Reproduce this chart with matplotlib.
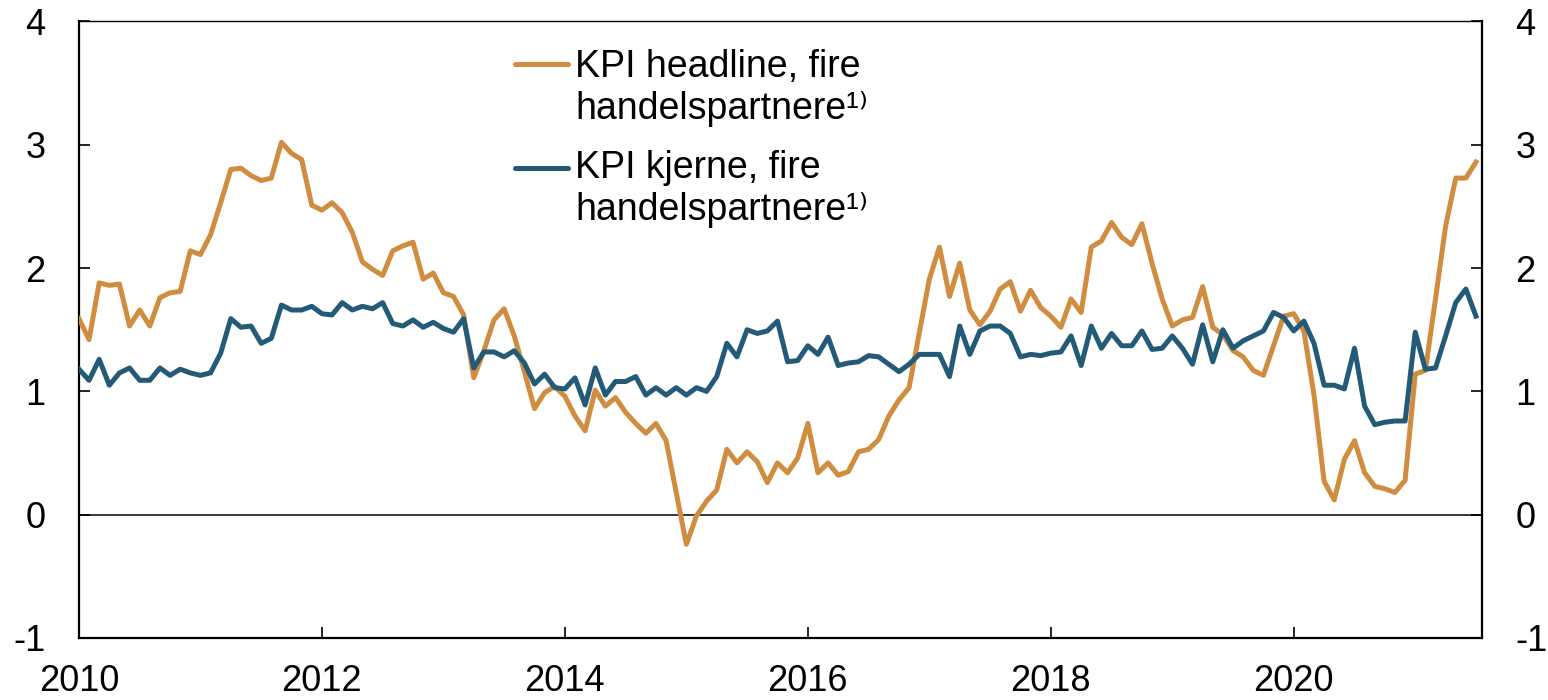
import numpy as np
import matplotlib
matplotlib.use('Agg')
import matplotlib.pyplot as plt

plt.rcParams['font.family'] = ['Liberation Sans', 'DejaVu Sans']

# monthly, Jan 2010 - Jul 2021
headline = [1.59, 1.42, 1.88, 1.86, 1.87, 1.53, 1.66, 1.53, 1.76, 1.80, 1.81, 2.14,
            2.11, 2.27, 2.53, 2.80, 2.81, 2.75, 2.71, 2.73, 3.02, 2.93, 2.88, 2.51,
            2.47, 2.53, 2.45, 2.29, 2.05, 1.99, 1.94, 2.14, 2.18, 2.21, 1.91, 1.96,
            1.80, 1.77, 1.62, 1.11, 1.33, 1.58, 1.67, 1.45, 1.16, 0.86, 0.99, 1.04,
            0.96, 0.80, 0.68, 1.01, 0.88, 0.95, 0.83, 0.74, 0.66, 0.74, 0.60, 0.18,
            -0.24, -0.01, 0.11, 0.20, 0.53, 0.42, 0.51, 0.43, 0.26, 0.42, 0.34, 0.46,
            0.74, 0.34, 0.42, 0.32, 0.35, 0.51, 0.53, 0.61, 0.80, 0.93, 1.03, 1.47,
            1.91, 2.17, 1.77, 2.04, 1.66, 1.54, 1.65, 1.83, 1.89, 1.65, 1.82, 1.68,
            1.61, 1.52, 1.75, 1.64, 2.17, 2.22, 2.37, 2.25, 2.19, 2.36, 2.04, 1.75,
            1.53, 1.58, 1.60, 1.85, 1.52, 1.46, 1.33, 1.28, 1.17, 1.13, 1.37, 1.61,
            1.63, 1.49, 0.97, 0.27, 0.12, 0.45, 0.60, 0.34, 0.23, 0.21, 0.18, 0.28,
            1.14, 1.17, 1.75, 2.34, 2.73, 2.73, 2.86]

core = [1.18, 1.09, 1.26, 1.05, 1.15, 1.19, 1.09, 1.09, 1.19, 1.13, 1.18, 1.15,
        1.13, 1.15, 1.31, 1.59, 1.52, 1.53, 1.39, 1.43, 1.70, 1.66, 1.66, 1.69,
        1.63, 1.62, 1.72, 1.66, 1.69, 1.67, 1.72, 1.55, 1.53, 1.58, 1.52, 1.56,
        1.51, 1.48, 1.59, 1.19, 1.32, 1.32, 1.28, 1.33, 1.23, 1.06, 1.14, 1.03,
        1.02, 1.11, 0.89, 1.19, 0.97, 1.08, 1.08, 1.12, 0.97, 1.03, 0.97, 1.03,
        0.97, 1.03, 1.00, 1.12, 1.39, 1.28, 1.50, 1.47, 1.49, 1.57, 1.24, 1.25,
        1.37, 1.30, 1.44, 1.21, 1.23, 1.24, 1.29, 1.28, 1.22, 1.16, 1.22, 1.30,
        1.30, 1.30, 1.12, 1.53, 1.30, 1.49, 1.53, 1.53, 1.47, 1.28, 1.30, 1.29,
        1.31, 1.32, 1.45, 1.21, 1.53, 1.35, 1.47, 1.37, 1.37, 1.49, 1.34, 1.35,
        1.45, 1.35, 1.22, 1.54, 1.24, 1.50, 1.35, 1.41, 1.45, 1.49, 1.64, 1.60,
        1.49, 1.57, 1.39, 1.05, 1.05, 1.02, 1.35, 0.88, 0.73, 0.75, 0.76, 0.76,
        1.48, 1.18, 1.19, 1.45, 1.72, 1.83, 1.61]

labels = ['KPI headline, fire\nhandelspartnere\u00b9\u207e',
          'KPI kjerne, fire\nhandelspartnere\u00b9\u207e']

t = 2010 + np.arange(len(headline)) / 12.0

years = [2010, 2012, 2014, 2016, 2018, 2020]
yticks = [-1, 0, 1, 2, 3, 4]

c_head = '#D08D40'
c_core = '#225A78'

fig = plt.figure(figsize=(15.48, 7.0), dpi=100)
ax = fig.add_axes([0.051, 0.0886, 0.9064, 0.8807])

ax.axhline(0, color='black', linewidth=1.1, zorder=1)
ax.plot(t, headline, color=c_head, linewidth=3.6, zorder=3)
ax.plot(t, core, color=c_core, linewidth=3.6, zorder=3)

ax.set_xlim(2010, 2021.55)
ax.set_ylim(-1, 4)
ax.set_xticks(years)
ax.set_xticklabels([str(y) for y in years])
ax.set_yticks(yticks)
ax.set_yticklabels([str(v) for v in yticks])

ax.tick_params(axis='y', which='both', direction='in', length=8, width=1.2,
               left=True, right=True, labelleft=True, labelright=True,
               labelsize=26, pad=24)
ax.tick_params(axis='x', direction='in', length=8, width=1.2,
               labelsize=26, pad=19)
for side in ['left', 'right', 'bottom']:
    ax.spines[side].set_linewidth(1.6)
ax.spines['top'].set_linewidth(1.0)

# legend, handle aligned with first line of each label
for lab, col, yl, yt in [(labels[0], c_head, 0.931, 0.842),
                         (labels[1], c_core, 0.762, 0.678)]:
    ax.plot([0.311, 0.3485], [yl, yl], color=col, linewidth=3.6,
            solid_capstyle='round', transform=ax.transAxes, clip_on=False)
    ax.text(0.3535, yt, lab, transform=ax.transAxes, fontsize=27,
            ha='left', va='baseline')

fig.savefig('out.png', dpi=100)
